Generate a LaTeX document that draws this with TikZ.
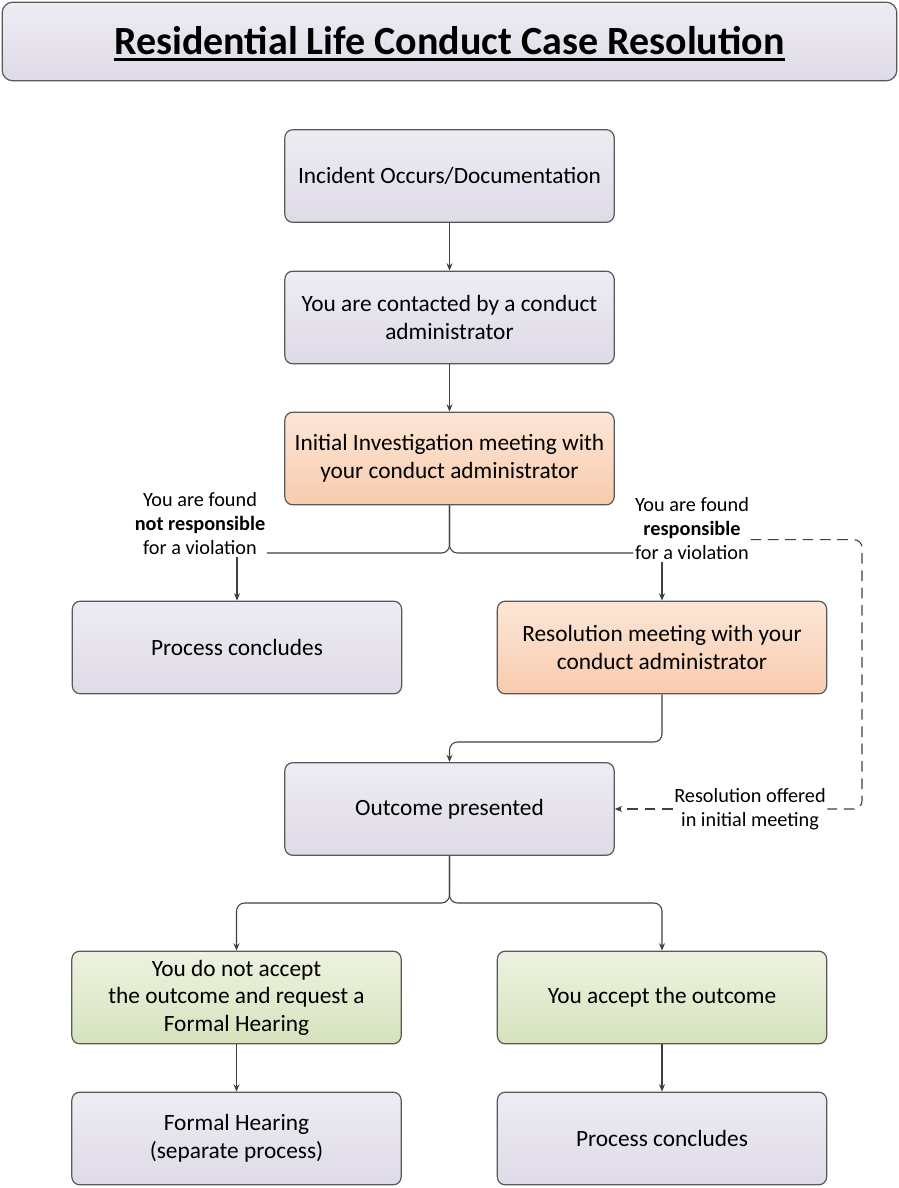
\documentclass[tikz,border=0pt]{standalone}
\usepackage{fontspec}
\setmainfont{Carlito}
\usetikzlibrary{arrows.meta}
\definecolor{lavtop}  {RGB}{238, 236, 243}
\definecolor{lavbot}  {RGB}{222, 218, 231}
\definecolor{orgtop}  {RGB}{252, 230, 215}
\definecolor{orgbot}  {RGB}{248, 203, 173}
\definecolor{grntop}  {RGB}{237, 242, 225}
\definecolor{grnbot}  {RGB}{214, 227, 188}
\definecolor{edgegray}{RGB}{89,  89,  89}
\definecolor{linegray}{RGB}{64,  64,  64}

\begin{document}
\begin{tikzpicture}[
  x=0.75pt, y=-0.75pt,
  >={Stealth[length=5.5pt, width=4.5pt]},
  box/.style={draw=edgegray, line width=0.9pt, rounded corners=6pt,
    minimum width=247pt, minimum height=69.5pt, align=center,
    font=\fontsize{17.5}{20.7}\selectfont,
    top color=lavtop, bottom color=lavbot},
  orgbox/.style={box, top color=orgtop, bottom color=orgbot},
  grnbox/.style={box, top color=grntop, bottom color=grnbot},
  lbl/.style={align=center, inner sep=1pt,
    font=\fontsize{15.2}{18}\selectfont},
  conn/.style={draw=linegray, line width=0.8pt},
]

%% pixel grid: 899 x 1188, y runs downwards
\useasboundingbox (0,0) rectangle (899,1188);

% -- title bar -------------------------------------------------
\node[draw=edgegray, line width=0.9pt, rounded corners=8pt,
  top color=lavtop, bottom color=lavbot,
  minimum width=671pt, minimum height=59pt] (titlebar) at (449.5,41.5) {};
\node[inner sep=0pt, font=\fontsize{30}{33}\selectfont\bfseries]
  (ttl) at (449.5,41) {Residential Life Conduct Case Resolution};
\draw[line width=2pt] ([yshift=-3.5pt]ttl.base west) -- ([yshift=-3.5pt]ttl.base east);

% -- main column -----------------------------------------------
\node[box]    (incident) at (449.5,176)   {Incident Occurs/Documentation};
\node[box]    (contact)  at (449.5,317.5) {You are contacted by a conduct\\administrator};
\node[orgbox] (invest)   at (449.5,458.5) {Initial Investigation meeting with\\your conduct administrator};

% -- first split -----------------------------------------------
\node[lbl] (lblno)  at (200,524) {You are found\\\textbf{not responsible}\\for a violation};
\node[lbl] (lblyes) at (692,529) {You are found\\\textbf{responsible}\\for a violation};
\coordinate (split1) at (449.5,553);

\node[box]    (conclude1) at (237,647.5) {Process concludes};
\node[orgbox] (resolve)   at (662,647.5) {Resolution meeting with your\\conduct administrator};

% -- outcome ---------------------------------------------------
\coordinate (join2) at (449.5,742);
\node[box] (outcome) at (449.5,809) {Outcome presented};
\node[lbl, fill=white] (lbloffer) at (750,809) {Resolution offered\\in initial meeting};
\coordinate (dashR) at (862,809);

% -- second split ----------------------------------------------
\coordinate (split2) at (449.5,903);
\node[grnbox] (reject) at (236.5,997.5) {You do not accept\\the outcome and request a\\Formal Hearing};
\node[grnbox] (accept) at (662,997.5)   {You accept the outcome};
\node[box] (hearing)   at (236.5,1138.5) {Formal Hearing\\(separate process)};
\node[box] (conclude2) at (662,1138.5)   {Process concludes};

% -- connectors ------------------------------------------------
\draw[conn, ->] (incident) -- (contact);
\draw[conn, ->] (contact) -- (invest);

\draw[conn, rounded corners=6pt] (invest.south) -- (split1) -- (lblno.east |- split1);
\draw[conn, rounded corners=6pt] (invest.south) -- (split1) -- (lblyes.west |- split1);
\draw[conn, ->] (lblno.south -| conclude1) -- (conclude1);
\draw[conn, ->] (lblyes.south -| resolve) -- (resolve);

\draw[conn, ->, rounded corners=6pt] (resolve.south) |- (join2) -- (outcome.north);

% dashed shortcut: resolution offered in the first meeting
\draw[conn, dashed, dash pattern=on 8pt off 5pt, rounded corners=6pt]
  ([yshift=-8pt]lblyes.east) -| (dashR) -- (lbloffer.east);
\draw[conn, ->, dashed, dash pattern=on 8pt off 5pt] (lbloffer.west) -- (outcome.east);

\draw[conn, ->, rounded corners=6pt] (outcome.south) -- (split2) -| (reject.north);
\draw[conn, ->, rounded corners=6pt] (outcome.south) -- (split2) -| (accept.north);

\draw[conn, ->] (reject) -- (hearing);
\draw[conn, ->] (accept) -- (conclude2);

\end{tikzpicture}
\end{document}
